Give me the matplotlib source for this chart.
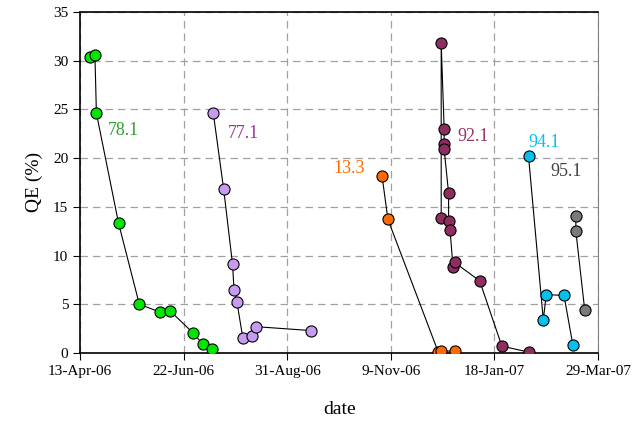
import numpy as np
import matplotlib
matplotlib.use("Agg")
import matplotlib.pyplot as plt
import matplotlib.dates as mdates

plt.rcParams['font.family'] = ['Liberation Serif', 'DejaVu Serif']

start = np.datetime64('2006-04-13')

# days after 13-Apr-06 and QE (%) for each batch
green_day = [7, 10, 11, 26, 40, 54, 61, 76, 83, 89]
green_qe = [30.4, 30.6, 24.6, 13.3, 5.0, 4.2, 4.3, 2.1, 0.9, 0.4]

purple_day = [90, 97, 103, 104, 106, 110, 116, 119, 156]
purple_qe = [24.6, 16.8, 9.1, 6.5, 5.2, 1.5, 1.7, 2.7, 2.3]

orange_day = [204, 208, 242, 244, 253]
orange_qe = [18.2, 13.7, 0.1, 0.2, 0.2]

maroon_day = [244, 244, 246, 246, 246, 249, 249, 250, 252, 253, 270, 285, 303]
maroon_qe = [13.8, 31.8, 23.0, 21.4, 20.9, 16.4, 13.5, 12.6, 8.8, 9.3, 7.4, 0.7, 0.1]

cyan_day = [303, 313, 315, 327, 333]
cyan_qe = [20.2, 3.4, 6.0, 5.9, 0.8]

grey_day = [335, 335, 341]
grey_qe = [14.1, 12.5, 4.4]

series = [
    (green_day, green_qe, '#00e600', '78.1', '#2ca02c', 19, 22.8),
    (purple_day, purple_qe, '#c79cf0', '77.1', '#993399', 100, 22.5),
    (orange_day, orange_qe, '#ff6a00', '13.3', '#ff6a00', 171, 18.9),
    (maroon_day, maroon_qe, '#8e2e60', '92.1', '#993366', 255, 22.2),
    (cyan_day, cyan_qe, '#00c2f0', '94.1', '#00c2f0', 303, 21.6),
    (grey_day, grey_qe, '#7a7a7a', '95.1', '#404040', 318, 18.6),
]

fig = plt.figure(figsize=(6.41, 4.22), dpi=100)
ax = fig.add_axes([0.125, 0.1635, 0.808, 0.8085])

for days, qe, col, lab, labcol, lx, ly in series:
    d = start + np.array(days).astype('timedelta64[D]')
    ax.plot(d.astype(object), qe, '-', color='black', lw=0.8,
            marker='o', ms=8, mfc=col, mec='black', mew=0.8, zorder=3)
    ax.text((start + np.timedelta64(lx, 'D')).astype(object), ly, lab, color=labcol,
            fontsize=13, ha='left', va='center')

ticks = [start + np.timedelta64(70 * i, 'D') for i in range(6)]
ax.set_xticks([t.astype(object) for t in ticks])
ax.xaxis.set_major_formatter(mdates.DateFormatter('%-d-%b-%y'))
ax.set_xlim(ticks[0].astype(object), ticks[-1].astype(object))
ax.set_ylim(0, 35)
ax.set_yticks(range(0, 36, 5))

ax.grid(True, ls=(0, (6, 4)), color='#a0a0a0', lw=0.9)
ax.spines['top'].set_linewidth(1.2)
ax.spines['right'].set_color('#808080')
ax.spines['left'].set_linewidth(1.2)
ax.spines['bottom'].set_linewidth(1.2)
ax.tick_params(direction='out', labelsize=11, length=5)

ax.set_xlabel('date', fontsize=14, labelpad=17)
ax.set_ylabel('QE (%)', fontsize=14, labelpad=7)

fig.savefig('out.png', dpi=100)
